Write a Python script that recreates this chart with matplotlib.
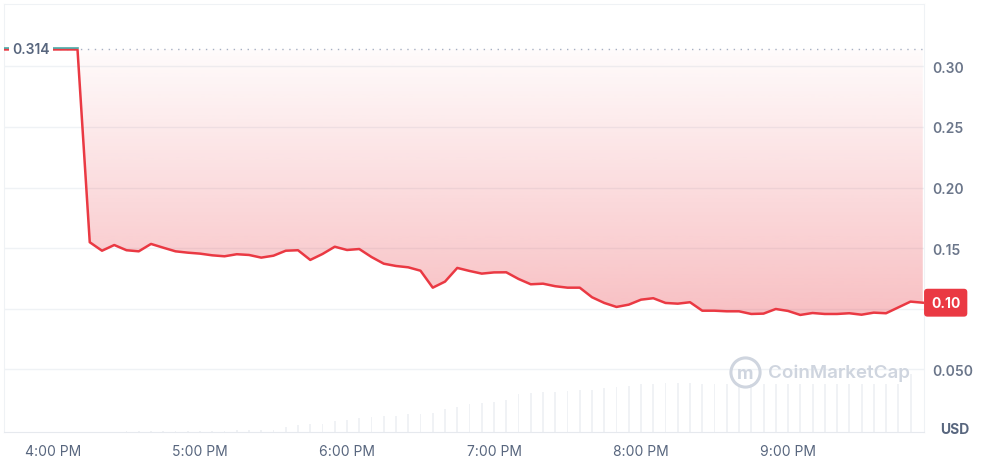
import numpy as np
import pandas as pd
import matplotlib
matplotlib.use('Agg')
from matplotlib import pyplot as plt
import matplotlib.dates as mdates
import matplotlib.transforms as mtransforms

plt.rcParams['font.family'] = ['Inter', 'DejaVu Sans']

# цена каждые 5 минут, 15:40 .. 21:55
price = [0.314, 0.314, 0.314, 0.314, 0.314, 0.314, 0.314,
         0.1549, 0.1479, 0.1526, 0.1483, 0.1474, 0.1535, 0.1504, 0.1474,
         0.1463, 0.1455, 0.1441, 0.1433, 0.1450, 0.1444, 0.1422, 0.1438,
         0.1479, 0.1483, 0.1403, 0.1452, 0.1512, 0.1485, 0.1493, 0.1427,
         0.1372, 0.1353, 0.1342, 0.1314, 0.1174, 0.1224, 0.1337, 0.1312,
         0.1290, 0.1300, 0.1301, 0.1246, 0.1202, 0.1207, 0.1186, 0.1174,
         0.1174, 0.1095, 0.1048, 0.1015, 0.1034, 0.1075, 0.1087, 0.1048,
         0.1042, 0.1054, 0.0984, 0.0984, 0.0979, 0.0979, 0.0957, 0.0960,
         0.0998, 0.0982, 0.0949, 0.0965, 0.0957, 0.0957, 0.0963, 0.0951,
         0.0968, 0.0963, 0.1011, 0.1059, 0.1050]
times = pd.date_range('2024-01-01 15:40', periods=len(price), freq='5min')

# объём (тыс.), 16:30 .. 21:50
volume = [0.8, 0.8, 0.8, 0.8, 0.8, 0.8, 1.0, 1.3, 1.3, 2.3, 2.3, 2.3, 2.3,
          5.0, 7.0, 8.3, 8.3, 11.0, 12.3, 13.7, 15.0, 16.3, 16.3, 17.7, 17.7,
          19.0, 23.0, 24.7, 27.7, 29.0, 30.0, 32.3, 37.7, 38.7, 40.0, 40.0,
          41.0, 42.3, 42.3, 43.7, 45.0, 46.3, 47.7, 47.7, 49.0, 49.0, 49.5,
          48.5, 48.5, 48.5, 48.5, 48.5, 48.5, 48.5, 48.5, 48.5, 48.5, 48.5,
          48.5, 48.5, 48.5, 48.5, 48.5, 48.5, 58.0]
vol_times = pd.date_range('2024-01-01 16:30', periods=len(volume), freq='5min')

base_price = 0.314
tick_times = ['16:00', '17:00', '18:00', '19:00', '20:00', '21:00']
tick_labels = ['4:00 PM', '5:00 PM', '6:00 PM', '7:00 PM', '8:00 PM', '9:00 PM']
y_ticks = [0.05, 0.15, 0.20, 0.25, 0.30]
y_labels = ['0.050', '0.15', '0.20', '0.25', '0.30']

RED = '#ea3943'
TEXT = '#58667e'
GRID = '#eff2f5'

x = mdates.date2num(times.to_pydatetime())
xv = mdates.date2num(vol_times.to_pydatetime())
p = np.array(price)

fig = plt.figure(figsize=(9.81, 4.6), dpi=100)
ax = fig.add_axes([4 / 981, 27 / 460, 920 / 981, 428 / 460])
x0 = mdates.date2num(pd.Timestamp('2024-01-01 15:40').to_pydatetime())
x1 = mdates.date2num(pd.Timestamp('2024-01-01 21:55:30').to_pydatetime())
ylim = (-0.0017, 0.3515)

# объём на второй оси
axv = ax.twinx()
axv.set_ylim(0, 428)
axv.bar(xv, volume, width=0.8 / 1440, color='#f0f2f5', zorder=1)
axv.set_axis_off()
ax.set_zorder(axv.get_zorder() + 1)
ax.patch.set_visible(False)

# сетка
for t in [0.05, 0.10, 0.15, 0.20, 0.25, 0.30]:
    ax.axhline(t, color=GRID, lw=1, zorder=0)

# градиентная заливка между линией и базовой ценой
poly = ax.fill_between(x, p, base_price, facecolor='none', edgecolor='none')
ymin = p.min()
n = 256
grad = np.zeros((n, 1, 4))
grad[:, 0, 0] = 234 / 255
grad[:, 0, 1] = 57 / 255
grad[:, 0, 2] = 67 / 255
grad[:, 0, 3] = np.linspace(0.32, 0.02, n)
im = ax.imshow(grad, extent=[x[0], x[-1], ymin, base_price], origin='lower',
               aspect='auto', zorder=2)
im.set_clip_path(poly.get_paths()[0], transform=ax.transData)
ax.set_xlim(x0, x1)
ax.set_ylim(*ylim)

# базовая линия
ax.axhline(base_price, color='#a6b0c3', lw=1, ls=(0, (1, 4)), zorder=2)

# линия цены
ax.plot(x, p, color=RED, lw=1.8, zorder=4, solid_joinstyle='round')
up = mtransforms.offset_copy(ax.transData, fig=fig, x=0, y=1.3, units='dots')
ax.plot(x[:7], p[:7], color='#4caaa8', lw=1.2, zorder=5, transform=up)

# подпись базовой цены
lbl_tr = mtransforms.offset_copy(ax.get_yaxis_transform(), fig=fig, x=8, y=0, units='dots')
ax.text(0, base_price, '0.314', transform=lbl_tr, ha='left', va='center',
        fontsize=10, color=TEXT, fontweight='semibold', zorder=6,
        bbox=dict(boxstyle='square,pad=0.25', fc='white', ec='none'))

# текущая цена
cur_tr = mtransforms.offset_copy(ax.get_yaxis_transform(), fig=fig, x=7, y=0, units='dots')
ax.text(1, p[-1], '0.10', transform=cur_tr, ha='left', va='center',
        fontsize=10, color='white', fontweight='bold', zorder=6, clip_on=False,
        bbox=dict(boxstyle='round,pad=0.5,rounding_size=0.25', fc=RED, ec='none'))

# оси
ax.set_xticks(mdates.date2num([pd.Timestamp('2024-01-01 ' + t).to_pydatetime() for t in tick_times]))
ax.set_xticklabels(tick_labels)
ax.yaxis.tick_right()
ax.set_yticks(y_ticks)
ax.set_yticklabels(y_labels)
ax.tick_params(axis='both', length=0, labelsize=10, labelcolor='#6b768a')
ax.tick_params(axis='x', pad=9, labelcolor=TEXT)
ax.tick_params(axis='y', pad=6)
for lab in ax.get_yticklabels():
    lab.set_fontweight('semibold')
for s in ax.spines.values():
    s.set_color(GRID)
ax.spines['bottom'].set_color('#e6e9ee')

ax.text(1.017, 0.008, 'USD', transform=ax.transAxes, ha='left', va='center',
        fontsize=10, color=TEXT, fontweight='bold')

# водяной знак
ax.plot([0.8055], [0.14], transform=ax.transAxes, marker='o', ms=21,
        mfc='none', mec='#cfd5df', mew=2.2, zorder=1)
ax.text(0.8055, 0.137, 'm', transform=ax.transAxes, ha='center', va='center',
        fontsize=13, color='#cfd5df', fontweight='bold', zorder=1)
ax.text(0.830, 0.14, 'CoinMarketCap', transform=ax.transAxes, ha='left',
        va='center', fontsize=13.5, color='#cfd5df', fontweight='semibold', zorder=1)

fig.savefig('out.png', dpi=100)
